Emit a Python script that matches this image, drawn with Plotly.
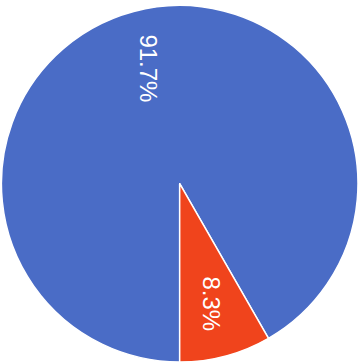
import math
import plotly.graph_objects as go

labels = ["A", "B"]
values = [91.7, 8.3]
colors = ["#4a6cc6", "#f0441c"]

W, H = 363, 362
dom_x = [0.0, 0.99]
dom_y = [0.0, 0.985]
rotation = 180
label_r = [0.67, 0.70]

fig = go.Figure(go.Pie(
    labels=labels,
    values=values,
    sort=False,
    direction="clockwise",
    rotation=rotation,
    marker=dict(colors=colors, line=dict(color="white", width=1.5)),
    textinfo="none",
    showlegend=False,
    domain=dict(x=dom_x, y=dom_y),
    hoverinfo="skip",
))

# label placement computed from the values (pie geometry)
cx = (dom_x[0] + dom_x[1]) / 2 * W
cy = (dom_y[0] + dom_y[1]) / 2 * H
R = min((dom_x[1] - dom_x[0]) * W, (dom_y[1] - dom_y[0]) * H) / 2
total = sum(values)
start = rotation
for v, fr in zip(values, label_r):
    mid = start + v / total * 180
    start += v / total * 360
    a = math.radians(mid)
    px = cx + fr * R * math.sin(a)
    py = cy + fr * R * math.cos(a)
    fig.add_annotation(
        x=px / W, y=py / H, xref="paper", yref="paper",
        text=f"{v / total * 100:.1f}%", showarrow=False, textangle=90,
        font=dict(family="Liberation Sans, Arial, sans-serif", size=24, color="white"),
        xanchor="center", yanchor="middle",
    )

fig.update_layout(
    width=W, height=H,
    margin=dict(l=0, r=0, t=0, b=0),
    paper_bgcolor="white",
    plot_bgcolor="white",
)
fig.write_html("out.html")
